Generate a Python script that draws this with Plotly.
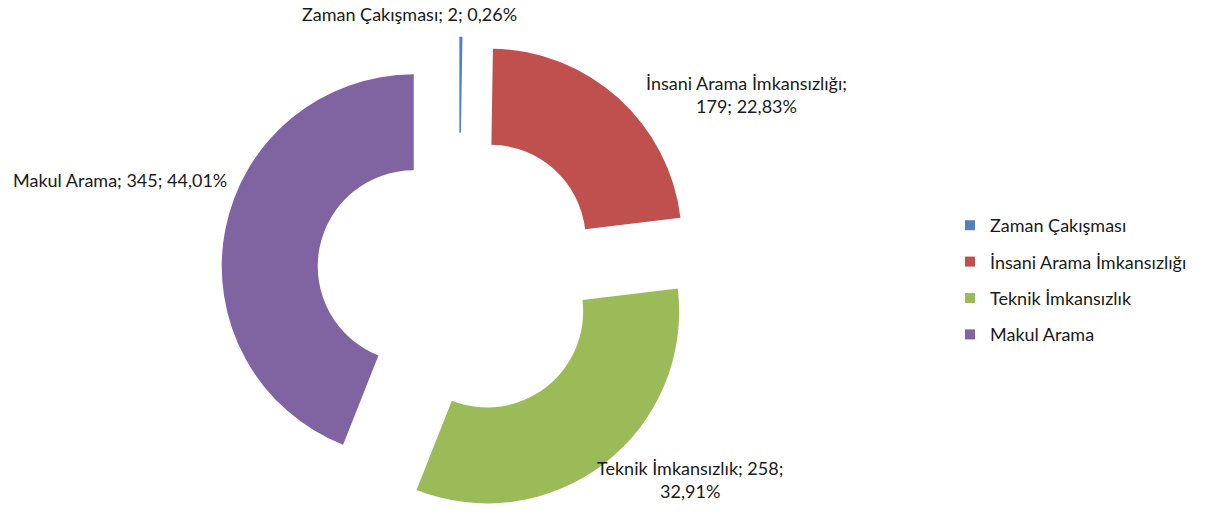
import plotly.graph_objects as go

# ---- data ----
labels = ["Zaman Çakışması", "İnsani Arama İmkansızlığı", "Teknik İmkansızlık", "Makul Arama"]
values = [2, 179, 258, 345]
colors = ["#4F81BD", "#C0504D", "#9BBB59", "#8064A2"]

W, H = 1205, 513
FONT = "Lato"
FS = 18
TXT = "#1a1a1a"

total = sum(values)
pcts = [v / total * 100 for v in values]
def fmt_pct(p):
    return ("%.2f" % p).replace(".", ",") + "%"

R = 192
PULL = 0.24
box = 2 * R * (1 + PULL)
cx = 459
dom_y = [0, box / H]
dom_x = [(cx - 250) / W, (cx + 250) / W]

fig = go.Figure()
fig.add_trace(go.Pie(
    labels=labels, values=values, sort=False, direction="clockwise", rotation=0,
    hole=0.5, pull=[PULL] * len(values),
    marker=dict(colors=colors, line=dict(width=0)),
    textinfo="none", showlegend=False,
    domain=dict(x=dom_x, y=dom_y),
))

# legend entries
for lab, col in zip(labels, colors):
    fig.add_trace(go.Scatter(x=[None], y=[None], mode="markers", name=lab, legendgroup=lab,
                             marker=dict(symbol="square", size=10, color=col),
                             showlegend=True, hoverinfo="skip"))

# data labels (text built from data, positions in pixels)
label_pos = [
    (409, 14, "{l}; {v}; {p}"),
    (746, 94, "{l};<br>{v}; {p}"),
    (690, 479, "{l}; {v};<br>{p}"),
    (120, 180, "{l}; {v}; {p}"),
]
for (px, py, tpl), lab, v, p in zip(label_pos, labels, values, pcts):
    fig.add_annotation(x=px / W, y=1 - py / H, xref="paper", yref="paper",
                       text=tpl.format(l=lab, v=v, p=fmt_pct(p)),
                       showarrow=False, xanchor="center", yanchor="middle",
                       font=dict(family=FONT, size=FS, color=TXT))

fig.update_layout(
    width=W, height=H, margin=dict(l=0, r=0, t=0, b=0),
    paper_bgcolor="white", plot_bgcolor="white",
    xaxis=dict(visible=False), yaxis=dict(visible=False),
    font=dict(family=FONT, size=FS, color=TXT),
    legend=dict(x=950 / W, xanchor="left", y=1 - 280 / H, yanchor="middle",
                tracegroupgap=10, font=dict(family=FONT, size=FS, color=TXT),
                bgcolor="rgba(0,0,0,0)"),
    showlegend=True,
)

fig.write_html("out.html")
